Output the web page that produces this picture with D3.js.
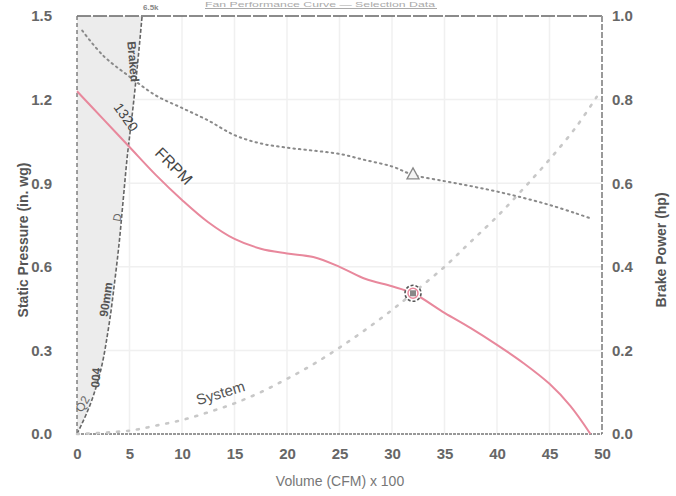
<!DOCTYPE html>
<html><head><meta charset="utf-8">
<script src="https://cdn.jsdelivr.net/npm/d3@7/dist/d3.min.js"></script>
<style>
html,body{margin:0;padding:0;background:#fff;}
svg{display:block;font-family:"Liberation Sans",Arial,sans-serif;}
</style></head>
<body><svg id="c" width="676" height="496"></svg>
<script>
// ---- data ----
const xTicks = [0,5,10,15,20,25,30,35,40,45,50];
const leftTicks = [0.0,0.3,0.6,0.9,1.2,1.5];
const rightTicks = [0.0,0.2,0.4,0.6,0.8,1.0];

const frpmVolume   = [0,2.5,5,7.5,10,12.5,15,17.5,20,22.5,25,27.5,30,32,35,37.5,40,42.5,45,47,48.9];
const frpmPressure = [1.23,1.13,1.03,0.93,0.84,0.76,0.70,0.665,0.648,0.635,0.60,0.556,0.53,0.505,0.435,0.38,0.32,0.255,0.18,0.10,0.0];

const bhpVolume = [0.5,2.5,5,7.5,10,12.5,15,17.5,20,22.5,25,27.5,30,32,35,37.5,40,42.5,45,47.5,49];
const bhpPower  = [0.965,0.905,0.855,0.81,0.78,0.75,0.715,0.695,0.685,0.678,0.67,0.655,0.64,0.62,0.605,0.593,0.58,0.565,0.548,0.528,0.515];

const sysVolume   = [0,5,7.5,10,12.5,15,17.5,20,22.5,25,27.5,30,32,35,37.5,40,42.5,45,47.5,49.5];
const sysPressure = [0,0.012,0.03,0.05,0.078,0.11,0.15,0.198,0.25,0.31,0.375,0.445,0.506,0.6,0.69,0.78,0.88,0.985,1.1,1.21];

const limitVolume   = [0,1.2,2.2,3.0,3.6,4.0,4.4,4.8,5.3,5.8,6.2];
const limitPressure = [0,0.1,0.22,0.38,0.55,0.68,0.84,1.0,1.16,1.34,1.5];

const opVolume = 32, opPressure = 0.505, opPower = 0.62;

// ---- layout ----
const svg = d3.select("#c");
const m = {l:77, r:74, t:16, b:62};
const W = 676, H = 496;
const x = d3.scaleLinear().domain([0,50]).range([m.l, W-m.r]);
const yL = d3.scaleLinear().domain([0,1.5]).range([H-m.b, m.t]);
const yR = d3.scaleLinear().domain([0,1.0]).range([H-m.b, m.t]);

// faint title remnants at top
svg.append("text").attr("x",205).attr("y",7).attr("font-size",7).attr("fill","#aaa")
  .attr("textLength",230).attr("lengthAdjust","spacingAndGlyphs").text("Fan Performance Curve — Selection Data");
svg.append("line").attr("x1",205).attr("x2",437).attr("y1",8.5).attr("y2",8.5).attr("stroke","#aaa").attr("stroke-width",1);
svg.append("text").attr("x",143).attr("y",10).attr("font-size",8).attr("font-weight","bold").attr("fill","#888").text("6.5k");

// grid
const g = svg.append("g");
g.selectAll(".vg").data(xTicks.slice(1,-1)).join("line")
  .attr("x1",d=>x(d)).attr("x2",d=>x(d)).attr("y1",m.t).attr("y2",H-m.b)
  .attr("stroke","#f0f0f0").attr("stroke-width",1.5);
g.selectAll(".hg").data(leftTicks.slice(1,-1)).join("line")
  .attr("x1",m.l).attr("x2",W-m.r).attr("y1",d=>yL(d)).attr("y2",d=>yL(d))
  .attr("stroke","#f0f0f0").attr("stroke-width",1.5);

// shaded region
const limitPts = limitVolume.map((v,i)=>[v,limitPressure[i]]);
const area = d3.area().x0(x(0)).x1(d=>x(d[0])).y(d=>yL(d[1])).curve(d3.curveMonotoneY);
svg.append("path").datum(limitPts).attr("d",area).attr("fill","#ececec");
svg.append("path").datum(limitPts)
  .attr("d",d3.line().x(d=>x(d[0])).y(d=>yL(d[1])).curve(d3.curveMonotoneY))
  .attr("fill","none").attr("stroke","#666").attr("stroke-width",1.6).attr("stroke-dasharray","4,2");

// frame
svg.append("line").attr("x1",x(0)).attr("x2",x(50)).attr("y1",m.t).attr("y2",m.t)
  .attr("stroke","#666").attr("stroke-width",1.6).attr("stroke-dasharray","14,2");
svg.append("line").attr("x1",x(50)).attr("x2",x(50)).attr("y1",m.t).attr("y2",H-m.b)
  .attr("stroke","#999").attr("stroke-width",2).attr("stroke-dasharray","6,2");
svg.append("line").attr("x1",x(0)).attr("x2",x(0)).attr("y1",m.t).attr("y2",H-m.b)
  .attr("stroke","#777").attr("stroke-width",1.4).attr("stroke-dasharray","4,3");
svg.append("line").attr("x1",x(0)).attr("x2",x(50)).attr("y1",H-m.b).attr("y2",H-m.b)
  .attr("stroke","#777").attr("stroke-width",1.6).attr("stroke-dasharray","3,1");

// system curve
const lineL = d3.line().x(d=>x(d[0])).y(d=>yL(d[1])).curve(d3.curveCatmullRom);
svg.append("path").datum(sysVolume.map((v,i)=>[v,sysPressure[i]]))
  .attr("d",lineL).attr("fill","none").attr("stroke","#c8c8c8")
  .attr("stroke-width",2.6).attr("stroke-dasharray","2,8").attr("stroke-linecap","round");

// brake power curve
const lineR = d3.line().x(d=>x(d[0])).y(d=>yR(d[1])).curve(d3.curveCatmullRom);
svg.append("path").datum(bhpVolume.map((v,i)=>[v,bhpPower[i]]))
  .attr("d",lineR).attr("fill","none").attr("stroke","#8a8a8a")
  .attr("stroke-width",2).attr("stroke-dasharray","1.5,4").attr("stroke-linecap","round");

// FRPM curve
svg.append("path").datum(frpmVolume.map((v,i)=>[v,frpmPressure[i]]))
  .attr("d",lineL).attr("fill","none").attr("stroke","#e8889c").attr("stroke-width",2);

// operating point markers
const tx = x(opVolume), ty = yR(opPower);
svg.append("path").attr("d",`M${tx},${ty-7}L${tx+6},${ty+4}L${tx-6},${ty+4}Z`)
  .attr("fill","#f4f4f4").attr("stroke","#888").attr("stroke-width",1.3);
const cx = x(opVolume), cy = yL(opPressure);
svg.append("circle").attr("cx",cx).attr("cy",cy).attr("r",8).attr("fill","#fff")
  .attr("stroke","#555").attr("stroke-width",1.6).attr("stroke-dasharray","3,2");
svg.append("circle").attr("cx",cx).attr("cy",cy).attr("r",5).attr("fill","none")
  .attr("stroke","#e8889c").attr("stroke-width",1.5);
svg.append("rect").attr("x",cx-3).attr("y",cy-3).attr("width",6).attr("height",6).attr("fill","#888");

// curve labels
function lab(t,px,py,rot,size,col,weight){
  svg.append("text").attr("transform",`translate(${px},${py}) rotate(${rot})`)
    .attr("text-anchor","middle").attr("font-size",size).attr("fill",col)
    .attr("font-weight",weight||"normal").text(t);
}
lab("System",222,398,-17,15,"#555");
lab("FRPM",170,170,45,16,"#444");
lab("1320",122,120,55,14,"#444");
lab("Braked",129,62,85,12,"#555","bold");
lab("90mm",110,300,-82,12,"#555","bold");
lab("004",100,378,-86,12,"#555","bold");
lab("Q2",86,406,-60,12,"#666");
lab("D",121,218,-80,11,"#666");

// axes
const fs = 15;
const ax = svg.append("g").attr("transform",`translate(0,${H-m.b})`)
  .call(d3.axisBottom(x).tickValues(xTicks).tickSize(0).tickPadding(14).tickFormat(d3.format("d")));
const ayl = svg.append("g").attr("transform",`translate(${m.l},0)`)
  .call(d3.axisLeft(yL).tickValues(leftTicks).tickSize(0).tickPadding(25).tickFormat(d3.format(".1f")));
const ayr = svg.append("g").attr("transform",`translate(${W-m.r},0)`)
  .call(d3.axisRight(yR).tickValues(rightTicks).tickSize(0).tickPadding(10).tickFormat(d3.format(".1f")));
[ax,ayl,ayr].forEach(a=>{
  a.select(".domain").remove();
  a.selectAll("text").attr("font-size",fs).attr("font-weight","bold").attr("fill","#666")
    .attr("font-family","Liberation Sans, Arial, sans-serif");
});

// axis titles
svg.append("text").attr("transform","translate(28,240) rotate(-90)").attr("text-anchor","middle")
  .attr("font-size",14).attr("font-weight","bold").attr("fill","#555").text("Static Pressure (in. wg)");
svg.append("text").attr("transform","translate(666,250) rotate(-90)").attr("text-anchor","middle")
  .attr("font-size",14).attr("font-weight","bold").attr("fill","#555").text("Brake Power (hp)");
svg.append("text").attr("x",340).attr("y",486).attr("text-anchor","middle")
  .attr("font-size",14).attr("fill","#777").text("Volume (CFM) x 100");
</script></body></html>
